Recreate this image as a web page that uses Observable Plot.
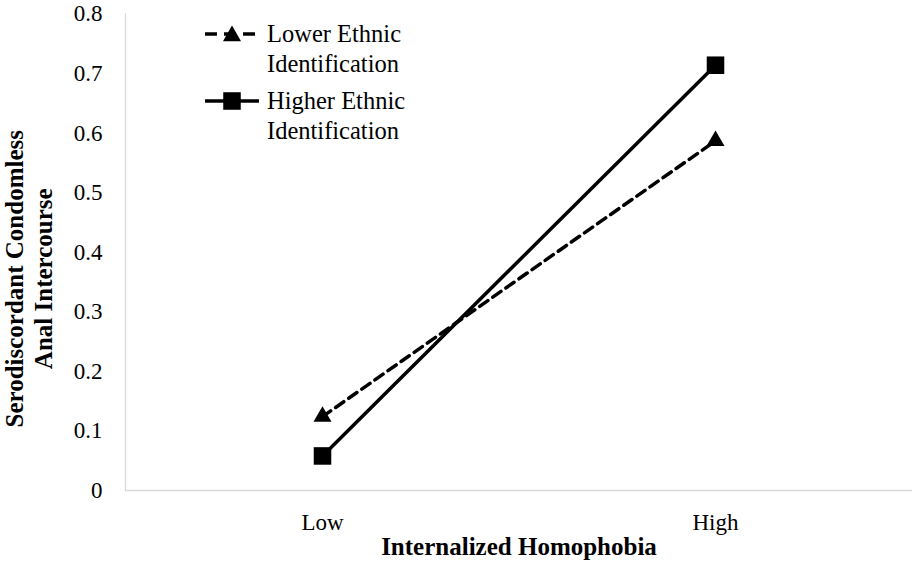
<!DOCTYPE html>
<html><head><meta charset="utf-8">
<script src="https://cdn.jsdelivr.net/npm/d3@7"></script>
<script src="https://cdn.jsdelivr.net/npm/@observablehq/plot@0.6"></script>
<style>
html,body{margin:0;padding:0;background:#fff;}
#chart{position:relative;width:914px;height:564px;}
#legend{position:absolute;left:0;top:0;pointer-events:none;}
</style></head><body><div id="chart"></div>
<script>
const categories = ["Low", "High"];
const seriesNames = ["Lower Ethnic Identification", "Higher Ethnic Identification"];
const legendLines = [["Lower Ethnic", "Identification"], ["Higher Ethnic", "Identification"]];
const lowerValues = [0.124, 0.587];
const higherValues = [0.058, 0.714];
const yTicks = [0, 0.1, 0.2, 0.3, 0.4, 0.5, 0.6, 0.7, 0.8];
const xTitle = "Internalized Homophobia";
const yTitle = ["Serodiscordant Condomless", "Anal Intercourse"];

const lowerRows = categories.map((c, i) => ({cat: c, value: lowerValues[i], series: seriesNames[0]}));
const higherRows = categories.map((c, i) => ({cat: c, value: higherValues[i], series: seriesNames[1]}));

const FONT = '"Liberation Serif", "Times New Roman", serif';
const axisGray = "#d9d9d9";

const plot = Plot.plot({
  width: 914, height: 564,
  marginLeft: 125, marginRight: 2, marginTop: 13.5, marginBottom: 74,
  style: {fontFamily: FONT, background: "#fff", color: "#000", overflow: "visible"},
  x: {type: "point", domain: categories, padding: 0.5},
  y: {domain: [0, 0.8]},
  marks: [
    Plot.ruleY([0], {stroke: axisGray, strokeWidth: 1.3}),
    Plot.frame({anchor: "left", stroke: axisGray, strokeWidth: 1.3}),
    Plot.axisY(yTicks, {tickSize: 0, tickPadding: 23, fontSize: 23, fontFamily: FONT, label: null, tickFormat: d => String(d)}),
    Plot.axisX({tickSize: 0, tickPadding: 23, fontSize: 23, fontFamily: FONT, label: null}),
    Plot.line(lowerRows, {x: "cat", y: "value", stroke: "#000", strokeWidth: 3.5, strokeDasharray: "10,6"}),
    Plot.line(higherRows, {x: "cat", y: "value", stroke: "#000", strokeWidth: 3.5}),
    Plot.dot(lowerRows, {x: "cat", y: "value", symbol: "triangle", r: 6.7, fill: "#000", stroke: null}),
    Plot.dot(higherRows, {x: "cat", y: "value", symbol: "square", r: 9.9, fill: "#000", stroke: null}),
    Plot.text([xTitle], {text: d => d, frameAnchor: "bottom", dy: 56, fontSize: 25, fontFamily: FONT, fontWeight: "bold", lineAnchor: "middle", textAnchor: "middle"}),
    Plot.text([yTitle.join("\n")], {text: d => d, frameAnchor: "left", rotate: -90, dx: -97.5, dy: 26.5, fontSize: 25, fontFamily: FONT, fontWeight: "bold", lineHeight: 1.16, lineAnchor: "middle", textAnchor: "middle"})
  ]
});
const chart = document.getElementById("chart");
chart.appendChild(plot);

// Legend overlay
const svg = d3.select(chart).append("svg").attr("id", "legend").attr("width", 914).attr("height", 564);
const legendSpecs = [
  {dash: "12,7", symbol: d3.symbolTriangle, size: Math.PI * 6.7 * 6.7, x2: 255},
  {dash: null, symbol: d3.symbolSquare, size: Math.PI * 9.9 * 9.9, x2: 259}
];
legendLines.forEach((lines, i) => {
  const spec = legendSpecs[i];
  const y0 = 34 + i * 67;
  const g = svg.append("g");
  g.append("line").attr("x1", 205).attr("x2", spec.x2).attr("y1", y0).attr("y2", y0)
    .attr("stroke", "#000").attr("stroke-width", 3.5).attr("stroke-dasharray", spec.dash);
  g.append("path").attr("d", d3.symbol(spec.symbol, spec.size)()).attr("transform", `translate(232,${y0 + (i === 0 ? 2 : 0)})`).attr("fill", "#000");
  const t = g.append("text").style("font-family", FONT).attr("font-size", 24.5).attr("fill", "#000");
  lines.forEach((ln, j) => {
    t.append("tspan").attr("x", 267).attr("y", y0 + 8 + j * 29.5).text(ln);
  });
});
</script></body></html>
